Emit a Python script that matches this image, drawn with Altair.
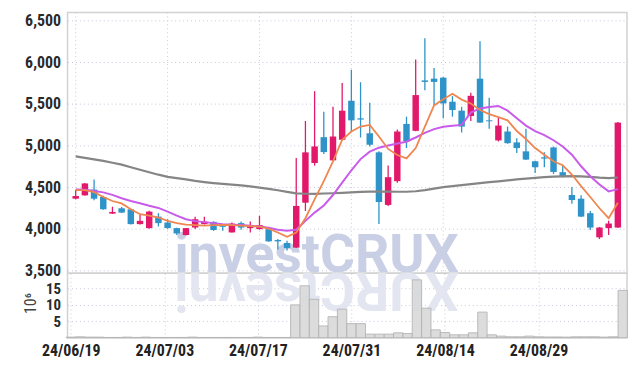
import altair as alt
import pandas as pd

# ---------------- data ----------------
dates = ["24/06/19", "24/06/20", "24/06/21", "24/06/24", "24/06/25", "24/06/26", "24/06/27", "24/06/28",
         "24/07/01", "24/07/02", "24/07/03", "24/07/04", "24/07/05", "24/07/08", "24/07/09", "24/07/10",
         "24/07/11", "24/07/12", "24/07/15", "24/07/16", "24/07/17", "24/07/18", "24/07/19", "24/07/22",
         "24/07/23", "24/07/24", "24/07/25", "24/07/26", "24/07/29", "24/07/30", "24/07/31", "24/08/01",
         "24/08/02", "24/08/05", "24/08/06", "24/08/07", "24/08/08", "24/08/09", "24/08/12", "24/08/13",
         "24/08/14", "24/08/16", "24/08/19", "24/08/20", "24/08/21", "24/08/22", "24/08/23", "24/08/26",
         "24/08/27", "24/08/28", "24/08/29", "24/08/30", "24/09/02", "24/09/03", "24/09/04", "24/09/05",
         "24/09/06", "24/09/09", "24/09/10", "24/09/11"]

opens = [4361, 4401, 4470, 4381, 4182, 4246, 4234, 4056, 4008, 4146,
         4075, 4008, 3925, 4015, 4056, 4083, 4042, 3956, 4068, 4008,
         3996, 3996, 3865, 3830, 3774, 4313, 4789, 5099, 4821, 5068,
         5536, 5325, 5146, 4917, 4286, 4571, 5258, 5175, 5780, 5801,
         5813, 5524, 5417, 5353, 5801, 5301, 5060, 5167, 5036, 4929,
         4810, 4857, 4976, 4679, 4405, 4361, 4187, 3897, 4008, 4015]
highs = [4464, 4550, 4592, 4395, 4265, 4262, 4240, 4167, 4215, 4187,
         4115, 4012, 4010, 4143, 4143, 4090, 4050, 4075, 4087, 4087,
         4155, 4000, 3877, 3857, 4849, 5294, 5651, 5405, 5464, 5750,
         5908, 5758, 5512, 4930, 4758, 5190, 5345, 6032, 6286, 5929,
         5820, 5592, 5464, 5631, 6250, 5571, 5333, 5226, 5087, 5199,
         4815, 4917, 4985, 4762, 4500, 4401, 4214, 4020, 4095, 5280]
lows = [4355, 4395, 4342, 4228, 4178, 4190, 4050, 4050, 4000, 4027,
        4000, 3925, 3920, 3996, 4050, 3975, 3976, 3955, 3988, 3956,
        3990, 3845, 3750, 3738, 3770, 4214, 4758, 4896, 4815, 5060,
        5167, 5095, 4988, 4056, 4274, 4551, 4968, 5170, 5663, 5485,
        5325, 5345, 5155, 5294, 5270, 5200, 5048, 5020, 4908, 4825,
        4670, 4738, 4658, 4615, 4301, 4140, 3985, 3877, 3925, 4010]
closes = [4393, 4544, 4361, 4234, 4202, 4194, 4056, 4095, 4206, 4068,
          4008, 3944, 4008, 4115, 4087, 3985, 4024, 4063, 4015, 4036,
          4044, 3849, 3849, 3770, 4274, 4917, 4988, 4920, 5107, 5417,
          5301, 5310, 5008, 4321, 4619, 5167, 5048, 5604, 5762, 5762,
          5504, 5425, 5226, 5595, 5274, 5290, 5238, 5027, 4968, 4830,
          4738, 4842, 4682, 4623, 4345, 4146, 4015, 4015, 4063, 5274]

ma5 = [4464, 4464, 4440, 4381, 4333, 4304, 4235, 4175, 4158, 4135,
       4095, 4069, 4051, 4044, 4039, 4044, 4048, 4044, 4039, 4032,
       4027, 4002, 3956, 3905, 3956, 4127, 4354, 4571, 4810, 5068,
       5167, 5226, 5246, 5107, 4958, 4885, 4845, 4968, 5226, 5480,
       5554, 5619, 5550, 5504, 5425, 5375, 5339, 5301, 5173, 5077,
       4968, 4889, 4810, 4762, 4651, 4512, 4381, 4246, 4127, 4313]
ma10 = [4470, 4468, 4452, 4437, 4407, 4367, 4333, 4307, 4277, 4250,
        4205, 4158, 4115, 4092, 4080, 4068, 4056, 4048, 4044, 4036,
        4027, 4012, 3988, 3976, 3988, 4095, 4194, 4280, 4405, 4554,
        4702, 4836, 4925, 4973, 5000, 5024, 5044, 5095, 5151, 5196,
        5223, 5235, 5246, 5393, 5444, 5461, 5474, 5417, 5327, 5238,
        5171, 5124, 5062, 4988, 4889, 4750, 4631, 4532, 4449, 4476]
ma_long = [4869, 4851, 4833, 4815, 4792, 4770, 4738, 4708, 4679, 4649,
           4623, 4607, 4592, 4574, 4560, 4548, 4538, 4530, 4520, 4508,
           4494, 4479, 4462, 4443, 4425, 4420, 4419, 4423, 4426, 4431,
           4437, 4443, 4446, 4446, 4446, 4444, 4444, 4450, 4464, 4482,
           4500, 4512, 4524, 4536, 4548, 4560, 4569, 4580, 4592, 4601,
           4611, 4619, 4625, 4629, 4631, 4629, 4623, 4613, 4607, 4615]

volume_m = [0.2, 0.3, 0.2, 0.2, 0.1, 0.1, 0.2, 0.1, 0.2, 0.1,
            0.1, 0.1, 0.1, 0.2, 0.1, 0.1, 0.1, 0.1, 0.1, 0.1,
            0.2, 0.1, 0.1, 0.1, 10.0, 15.8, 11.7, 3.6, 6.4, 8.7,
            4.3, 4.3, 1.1, 1.1, 1.1, 1.5, 1.3, 17.6, 9.0, 2.4,
            1.6, 0.9, 0.9, 1.5, 7.8, 0.9, 0.5, 0.3, 0.3, 0.5,
            0.3, 0.25, 0.25, 0.2, 0.3, 0.3, 0.3, 0.2, 0.3, 14.4]

price_ticks = [3500, 4000, 4500, 5000, 5500, 6000, 6500]
volume_ticks = [5, 10, 15]
date_tick_index = [0, 10, 20, 30, 40, 50]
volume_title = "10⁶"
watermark = "investCRUX"

# ---------------- tables ----------------
idx = list(range(len(dates)))
candles = pd.DataFrame({"i": idx, "date": dates, "open": opens, "high": highs,
                        "low": lows, "close": closes, "vol": volume_m})
ma5_df = pd.DataFrame({"i": idx, "v": ma5})
ma10_df = pd.DataFrame({"i": idx, "v": ma10})
malong_df = pd.DataFrame({"i": idx, "v": ma_long})
grid_df = pd.DataFrame({"i": date_tick_index})
wm_df = pd.DataFrame({"t": [watermark]})
wm_ref_df = pd.DataFrame({"t": [watermark[::-1]]})

# ---------------- style ----------------
FONT = "'Liberation Sans Narrow', 'Roboto Condensed', 'DejaVu Sans Condensed', sans-serif"
UP = "#E2196B"
DOWN = "#2D93C9"
GRID = "#c5c8dc"
W = 564
PH = 263
VH = 65
XDOM = [-0.35, 59.46]
label_expr = "[" + ",".join("'" + d + "'" for d in dates) + "][datum.value]"

xscale = alt.Scale(domain=XDOM, nice=False, zero=False)
x_vol_axis = alt.Axis(values=date_tick_index, labelExpr=label_expr, ticks=False, domain=False,
                      grid=True, gridColor=GRID, gridDash=[1, 3], title=None,
                      labelFont=FONT, labelFontSize=16, labelColor="#222222", labelPadding=5,
                      labelFontWeight="bold")
yscale = alt.Scale(domain=[3466, 6596], nice=False, zero=False)
y_axis = alt.Axis(values=price_ticks, format=",d", ticks=False, domain=False, title=None,
                  gridColor=GRID, gridDash=[1, 3], labelFont=FONT, labelFontSize=16,
                  labelColor="#2a2a2a", labelPadding=7, labelFontWeight="bold")

color_cond = alt.condition("datum.close >= datum.open", alt.value(UP), alt.value(DOWN))

base = alt.Chart(candles)

vgrid = alt.Chart(grid_df).mark_rule(color=GRID, strokeDash=[1, 3], strokeWidth=1).encode(
    x=alt.X("i:Q", scale=xscale, axis=None))

wm = alt.Chart(wm_df).mark_text(font="Roboto", fontSize=54, fontWeight="bold", color="#c9cfe4",
                                 align="center", baseline="alphabetic").encode(
    text="t:N", x=alt.value(251), y=alt.value(262))

wicks = base.mark_rule(strokeWidth=1.3).encode(
    x=alt.X("i:Q", scale=xscale, axis=None),
    y=alt.Y("low:Q", scale=yscale, axis=y_axis),
    y2="high:Q",
    color=color_cond)

bodies = base.mark_bar(size=6.5).encode(
    x=alt.X("i:Q", scale=xscale, axis=None),
    y=alt.Y("open:Q", scale=yscale, axis=y_axis),
    y2="close:Q",
    color=color_cond)

def ma_line(df, col, width):
    return alt.Chart(df).mark_line(color=col, strokeWidth=width).encode(
        x=alt.X("i:Q", scale=xscale, axis=None),
        y=alt.Y("v:Q", scale=yscale, axis=y_axis))

price = alt.layer(
    vgrid, wm, wicks, bodies,
    ma_line(malong_df, "#858585", 2.2),
    ma_line(ma10_df, "#C95BEA", 2),
    ma_line(ma5_df, "#EF8650", 1.8),
).properties(width=W, height=PH)

wm_ref = alt.Chart(wm_ref_df).mark_text(font="Roboto", fontSize=54, fontWeight="bold",
                                         color="#e3e6f0", angle=180, align="center",
                                         baseline="alphabetic").encode(
    text="t:N", x=alt.value(251), y=alt.value(0))

vol_axis = alt.Axis(values=volume_ticks, format="d", ticks=False, domain=False,
                    gridColor=GRID, gridDash=[1, 3], labelFont=FONT, labelFontSize=15,
                    labelColor="#2a2a2a", labelPadding=7, labelFontWeight="bold",
                    title=volume_title, titleFont=FONT, titleFontSize=16, titleFontWeight="normal",
                    titleColor="#444444", titleAngle=270, titleX=-37, titleY=30,
                    titleAlign="center", titleBaseline="middle")

vbars = base.transform_calculate(x0="datum.i - 0.5", x1="datum.i + 0.5").mark_bar(
    color="#d9d9d9", stroke="#b3b3b3", strokeWidth=1, opacity=0.9).encode(
    x=alt.X("x0:Q", scale=xscale, axis=x_vol_axis),
    x2="x1:Q",
    y=alt.Y("vol:Q", scale=alt.Scale(domain=[0, 19.6], nice=False), axis=vol_axis),
    y2=alt.datum(0))

volume = alt.layer(wm_ref, vbars).properties(width=W, height=VH)

chart = alt.vconcat(price, volume, spacing=0, bounds="flush").properties(
    padding={"left": 14, "top": 1, "right": 2, "bottom": 2}
).configure_view(stroke="#d2d2d2", strokeWidth=1.5)

chart.save("out.html", embed_options={"renderer": "svg", "actions": False})
